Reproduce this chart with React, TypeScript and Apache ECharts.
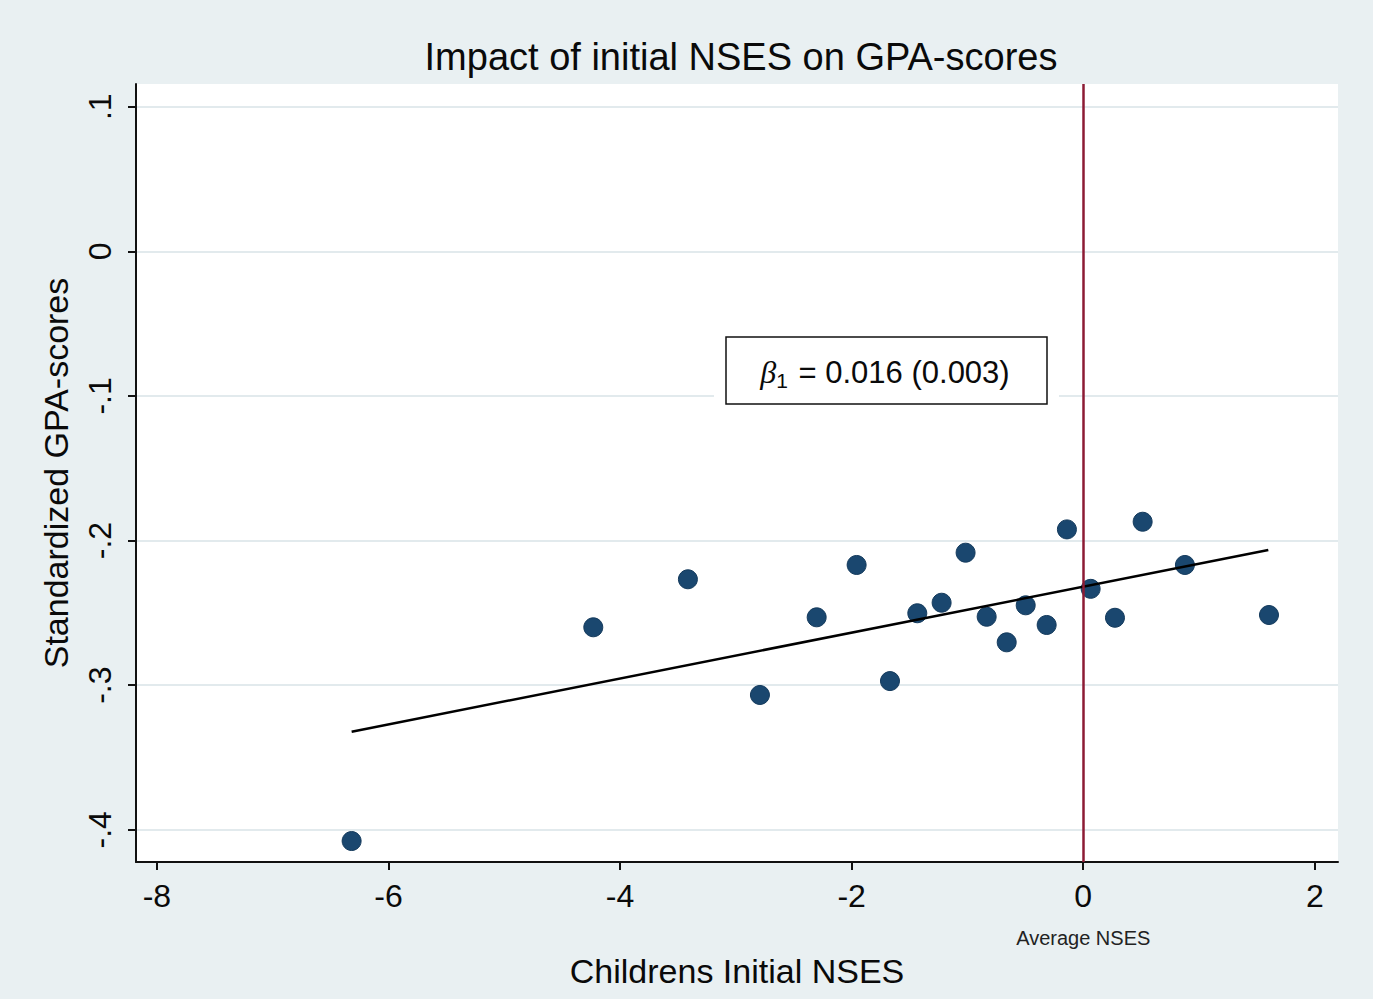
import React, { useEffect, useRef } from "react";
import * as echarts from "echarts";

const chartTitle = "Impact of initial NSES on GPA-scores";
const xName = "Childrens Initial NSES";
const yName = "Standardized GPA-scores";
const refLineLabel = "Average NSES";
const xTicks = [-8, -6, -4, -2, 0, 2];
const yTicks = [-0.4, -0.3, -0.2, -0.1, 0, 0.1];
const nses = [-6.318, -4.231, -3.414, -2.792, -2.302, -1.957, -1.669, -1.433, -1.223, -1.016, -0.834, -0.661, -0.497, -0.316, -0.141, 0.064, 0.274, 0.513, 0.878, 1.604];
const gpa = [-0.4078, -0.26, -0.2268, -0.3068, -0.2531, -0.2169, -0.2972, -0.2503, -0.243, -0.2084, -0.2527, -0.2704, -0.2448, -0.2584, -0.1923, -0.2334, -0.2534, -0.187, -0.2169, -0.2515];
const fitX = [-6.318, 1.598];
const fitY = [-0.3322, -0.2066];
const refLineX = 0;

const FONT = "'Liberation Sans', Arial, Helvetica, sans-serif";

function fmtY(v: number) {
  if (Math.abs(v) < 1e-9) return "0";
  const s = Math.abs(v).toFixed(1).replace(/^0/, "");
  return (v < 0 ? "-" : "") + s;
}

export default function App() {
  const ref = useRef<HTMLDivElement>(null);
  useEffect(() => {
    document.body.style.margin = "0";
    document.body.style.overflow = "hidden";
    const chart = echarts.init(ref.current!, null, { renderer: "svg" });
    const option: any = {
      animation: false,
      backgroundColor: "#e9f0f2",
      title: {
        text: chartTitle,
        left: 736,
        top: 33,
        textAlign: "center",
        textStyle: { fontFamily: FONT, fontSize: 38, fontWeight: "normal", color: "#0a0a0a" },
      },
      grid: {
        left: 136,
        right: 35,
        top: 84,
        bottom: 137,
        show: true,
        backgroundColor: "#ffffff",
        borderWidth: 0,
      },
      xAxis: {
        type: "value",
        min: -8.18,
        max: 2.2,
        name: xName,
        nameLocation: "middle",
        nameGap: 92,
        nameTextStyle: { fontFamily: FONT, fontSize: 34, color: "#0a0a0a" },
        axisLine: { show: true, onZero: false, lineStyle: { color: "#111", width: 2 } },
        axisTick: { show: true, length: 8, lineStyle: { color: "#111", width: 2 }, customValues: xTicks },
        axisLabel: { fontFamily: FONT, fontSize: 32, color: "#0a0a0a", margin: 18, customValues: xTicks, formatter: (v: number) => String(v) },
        splitLine: { show: false },
      },
      yAxis: {
        type: "value",
        min: -0.4223,
        max: 0.1157,
        name: yName,
        nameLocation: "middle",
        nameGap: 63,
        nameTextStyle: { fontFamily: FONT, fontSize: 34, color: "#0a0a0a" },
        axisLine: { show: true, onZero: false, lineStyle: { color: "#111", width: 2 } },
        axisTick: { show: true, length: 8, lineStyle: { color: "#111", width: 2 }, customValues: yTicks },
        axisLabel: { fontFamily: FONT, fontSize: 32, color: "#0a0a0a", margin: 20, rotate: 90, customValues: yTicks, formatter: fmtY },
        splitLine: { show: true, lineStyle: { color: "#e2eaed", width: 2 } },
      },
      series: [
        {
          type: "line",
          name: "ref",
          data: [],
          z: 1,
          markLine: {
            silent: true,
            symbol: "none",
            label: { show: false },
            lineStyle: { color: "#8c1b34", width: 2.5, type: "solid" },
            data: [{ xAxis: refLineX }],
          },
        },
        {
          type: "scatter",
          name: "schools",
          z: 3,
          symbol: "circle",
          symbolSize: 19,
          itemStyle: { color: "#1a476f", opacity: 1, borderColor: "#143a5c", borderWidth: 1 },
          data: nses.map((x, i) => [x, gpa[i]]),
        },
        {
          type: "line",
          name: "fit",
          z: 4,
          symbol: "none",
          lineStyle: { color: "#000", width: 2.5 },
          data: fitX.map((x, i) => [x, fitY[i]]),
        },
      ],
    };
    chart.setOption(option);

    const refPx = chart.convertToPixel({ xAxisIndex: 0 }, refLineX) as number;
    chart.setOption({
      graphic: [
        {
          type: "rect",
          id: "boxpad",
          shape: { x: 714, y: 330, width: 345, height: 81 },
          style: { fill: "#ffffff" },
          z: 5,
        },
        {
          type: "rect",
          id: "box",
          shape: { x: 726, y: 337, width: 321, height: 67 },
          style: { fill: "#ffffff", stroke: "#111", lineWidth: 1.5 },
          z: 6,
        },
        {
          type: "text",
          id: "boxtext",
          x: 885,
          y: 372,
          z: 7,
          style: {
            text: "{b|β}{s|1} = 0.016 (0.003)",
            textAlign: "center",
            textVerticalAlign: "middle",
            font: `31px ${FONT}`,
            fill: "#0a0a0a",
            rich: {
              b: { fontFamily: "'Liberation Serif', 'DejaVu Serif', serif", fontStyle: "italic", fontSize: 32, fill: "#0a0a0a" },
              s: { fontFamily: FONT, fontSize: 21, fill: "#0a0a0a", padding: [16, 2, 0, 0] },
            },
          },
        },
        {
          type: "text",
          id: "avglabel",
          x: refPx,
          y: 938,
          z: 7,
          style: {
            text: refLineLabel,
            textAlign: "center",
            textVerticalAlign: "middle",
            font: `20px ${FONT}`,
            fill: "#222",
          },
        },
      ],
    });
    return () => chart.dispose();
  }, []);
  return <div ref={ref} style={{ width: 1373, height: 999 }} />;
}
